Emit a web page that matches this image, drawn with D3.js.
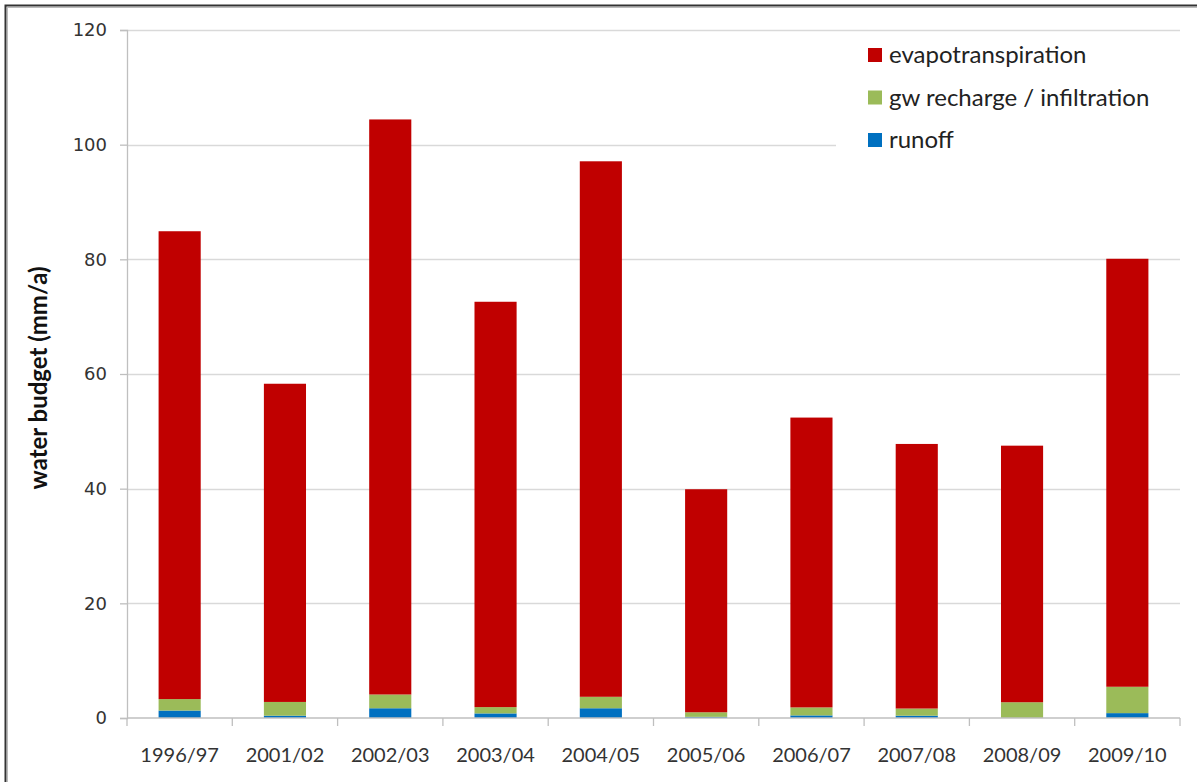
<!DOCTYPE html>
<html>
<head>
<meta charset="utf-8">
<script src="https://cdn.jsdelivr.net/npm/d3@7"></script>
<style>
  body { margin: 0; background: #fff; }
  svg { display: block; }
</style>
</head>
<body>
<script>
// water budget per hydrological year (mm/a)
const years = ["1996/97", "2001/02", "2002/03", "2003/04", "2004/05", "2005/06", "2006/07", "2007/08", "2008/09", "2009/10"];
const runoff = [1.3, 0.4, 1.7, 0.8, 1.7, 0.2, 0.45, 0.4, 0, 0.85];
const recharge = [2.0, 2.4, 2.4, 1.1, 2.0, 0.8, 1.4, 1.25, 2.75, 4.6];
const evapo = [81.6, 55.5, 100.3, 70.7, 93.4, 38.9, 50.55, 46.15, 44.75, 74.65];
const yTicks = [0, 20, 40, 60, 80, 100, 120];

const seriesNames = ["runoff", "gw recharge / infiltration", "evapotranspiration"];
const colors = {
    "runoff": "#0070C0",
    "gw recharge / infiltration": "#9BBB59",
    "evapotranspiration": "#C00000"
};

const width = 1197,
    height = 782,
    margin = {top: 30, right: 17, bottom: 64, left: 127};

const svg = d3.select('body').append('svg')
    .attr('width', width)
    .attr('height', height);

// outer frame (only top/left edges fall inside the picture)
svg.append('rect')
    .attr('x', 5.5).attr('y', 5.5)
    .attr('width', width + 10).attr('height', height + 10)
    .style('fill', 'none')
    .style('stroke', '#333')
    .style('stroke-width', 2);
svg.append('rect')
    .attr('x', 7.5).attr('y', 7.5)
    .attr('width', width + 10).attr('height', height + 10)
    .style('fill', 'none')
    .style('stroke', '#bbb')
    .style('stroke-width', 1);

const x = d3.scaleBand()
    .domain(years)
    .range([margin.left, width - margin.right])
    .paddingInner(0.6)
    .paddingOuter(0.3);

const y = d3.scaleLinear()
    .domain([0, 120])
    .range([height - margin.bottom, margin.top]);

// gridlines
svg.append('g')
    .selectAll('line')
    .data(yTicks.filter(d => d > 0))
    .join('line')
    .attr('x1', margin.left)
    .attr('x2', width - margin.right)
    .attr('y1', d => Math.round(y(d)) + 0.5)
    .attr('y2', d => Math.round(y(d)) + 0.5)
    .style('stroke', '#d9d9d9')
    .style('stroke-width', 1.3);

// stacked bars
const table = years.map((yr, i) => ({
    year: yr,
    "runoff": runoff[i],
    "gw recharge / infiltration": recharge[i],
    "evapotranspiration": evapo[i]
}));
const stack = d3.stack().keys(seriesNames)(table);

svg.append('g')
    .selectAll('g')
    .data(stack)
    .join('g')
    .style('fill', d => colors[d.key])
    .selectAll('rect')
    .data(d => d)
    .join('rect')
    .attr('x', d => x(d.data.year))
    .attr('width', x.bandwidth())
    .attr('y', d => y(d[1]))
    .attr('height', d => y(d[0]) - y(d[1]));

// y axis
const yAxis = svg.append('g')
    .attr('transform', `translate(${margin.left},0)`)
    .call(d3.axisLeft(y).tickValues(yTicks).tickSize(7).tickPadding(13));
yAxis.select('.domain').style('stroke', '#bfbfbf').style('stroke-width', 1.3);
yAxis.selectAll('.tick line').style('stroke', '#bfbfbf').style('stroke-width', 1.3);
yAxis.selectAll('text')
    .style('font-family', 'DejaVu Sans')
    .style('font-size', '18px')
    .style('fill', '#333');

// x axis, ticks sit between categories
const xAxisG = svg.append('g')
    .attr('transform', `translate(0,${y(0)})`);
xAxisG.append('line')
    .attr('x1', margin.left).attr('x2', width - margin.right)
    .style('stroke', '#bfbfbf').style('stroke-width', 1.3);
const step = x.step();
xAxisG.selectAll('line.tick')
    .data(d3.range(years.length + 1))
    .join('line')
    .attr('class', 'tick')
    .attr('x1', i => margin.left + i * step)
    .attr('x2', i => margin.left + i * step)
    .attr('y1', 0).attr('y2', 8)
    .style('stroke', '#bfbfbf').style('stroke-width', 1.3);
xAxisG.selectAll('text')
    .data(years)
    .join('text')
    .attr('x', d => x(d) + x.bandwidth() / 2)
    .attr('y', 44)
    .attr('text-anchor', 'middle')
    .style('font-family', 'Lato')
    .style('font-size', '20px')
    .style('fill', '#333')
    .text(d => d);

// y axis title
svg.append('text')
    .attr('transform', `translate(47,${(y(0) + y(120)) / 2 + 4}) rotate(-90)`)
    .attr('text-anchor', 'middle')
    .style('font-family', 'Lato')
    .style('font-weight', 'bold')
    .style('font-size', '24px')
    .style('fill', '#111')
    .text('water budget (mm/a)');

// legend, white box over the grid
const legend = svg.append('g');
legend.append('rect')
    .attr('x', 836).attr('y', 36)
    .attr('width', width - margin.right - 836)
    .attr('height', 122)
    .style('fill', '#fff');

const legendItems = ["evapotranspiration", "gw recharge / infiltration", "runoff"];
const item = legend.selectAll('g.item')
    .data(legendItems)
    .join('g')
    .attr('class', 'item')
    .attr('transform', (d, i) => `translate(868,${55 + i * 42.5})`);
item.append('rect')
    .attr('x', 0).attr('y', -7)
    .attr('width', 14).attr('height', 14)
    .style('fill', d => colors[d]);
item.append('text')
    .attr('x', 21)
    .attr('y', 8)
    .style('font-family', 'Lato')
    .style('font-size', '24px')
    .style('fill', '#222')
    .text(d => d);
</script>
</body>
</html>
